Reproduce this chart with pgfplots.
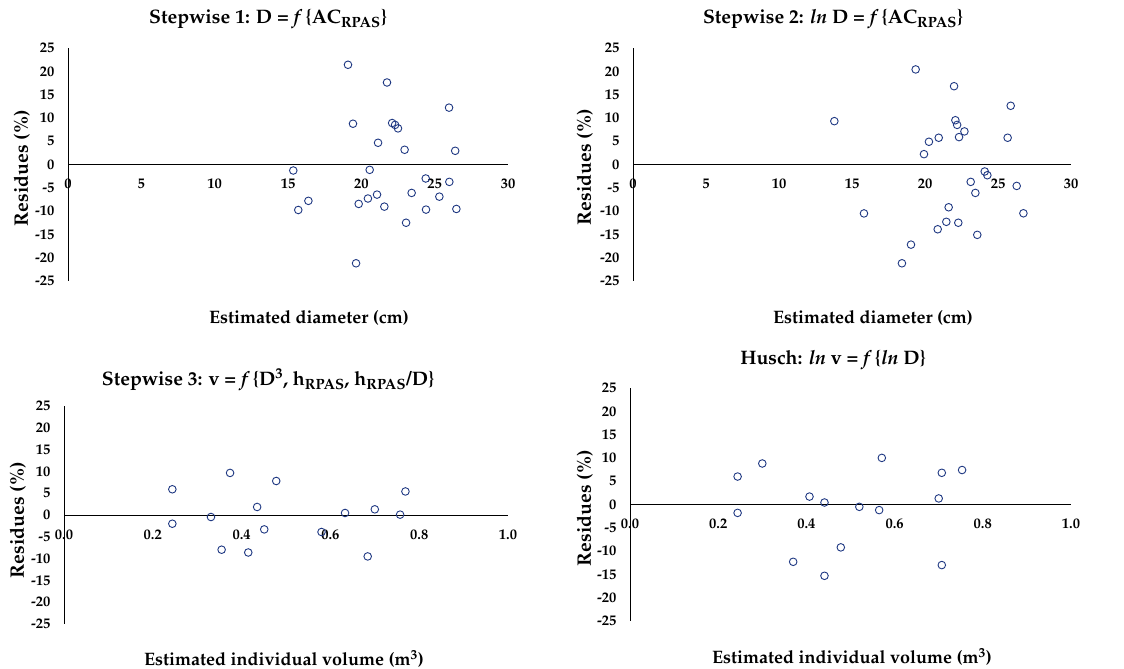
\documentclass[border=0pt]{standalone}
\usepackage[T1]{fontenc}
\usepackage{mathpazo}
\usepackage{pgfplots}
\pgfplotsset{compat=1.18}

\definecolor{mk}{RGB}{31,56,130}

\newcommand\tk[1]{\textbf{\fontsize{14.5}{14.5}\selectfont #1}}

\pgfplotsset{
  resid/.style={
    scale only axis,
    anchor=south west,
    axis x line=middle,
    axis y line=left,
    axis line style={-, black, line width=0.8pt},
    ymin=-25, ymax=25,
    ytick={-25,-20,...,25},
    yticklabel={\tk{\pgfmathprintnumber[assume math mode=true]{\tick}}},
    major tick length=0pt,
    hide obscured x ticks=false,
    hide obscured y ticks=false,
    clip=false,
    yticklabel style={xshift=-10pt},
    xticklabel style={yshift=-11pt},
  },
  dxt/.style={xmin=0, xmax=30, xtick={0,5,...,30},
    xticklabel={\tk{\pgfmathprintnumber[assume math mode=true]{\tick}}}},
  vxt/.style={xmin=0, xmax=1, xtick={0,0.2,0.4,0.6,0.8,1},
    xticklabel={\tk{\pgfmathprintnumber[assume math mode=true,fixed,fixed zerofill,precision=1]{\tick}}}},
  pts/.style={only marks, mark=o, mark size=3.8pt, mark options={draw=mk, line width=0.9pt}},
}

\begin{document}
\begin{tikzpicture}[x=1pt,y=1pt]
\useasboundingbox (0,0) rectangle (1124,669);

% ---- Stepwise 1
\begin{axis}[resid, dxt, at={(68pt,388pt)}, width=440pt, height=233pt]
\addplot[pts] coordinates {
(19.09,21.4) (21.75,17.6) (25.98,12.2) (19.43,8.75) (22.1,8.9) (22.3,8.5)
(22.5,7.75) (21.14,4.66) (22.95,3.16) (26.4,2.94) (15.36,-1.29) (20.57,-1.15)
(24.39,-3.0) (26.0,-3.73) (23.43,-6.1) (21.07,-6.46) (20.45,-7.3) (25.32,-6.9)
(16.39,-7.8) (19.82,-8.46) (21.57,-9.04) (15.7,-9.76) (24.41,-9.68) (26.48,-9.54)
(23.05,-12.5) (19.64,-21.2)};
\end{axis}

% ---- Stepwise 2
\begin{axis}[resid, dxt, at={(633pt,388pt)}, width=438pt, height=233pt]
\addplot[pts] coordinates {
(19.36,20.4) (21.99,16.8) (25.87,12.6) (13.79,9.3) (22.08,9.5) (22.2,8.5)
(22.7,7.1) (20.94,5.74) (22.33,5.88) (25.66,5.74) (20.27,4.88) (19.93,2.22)
(24.09,-1.5) (24.27,-2.3) (23.13,-3.73) (23.45,-6.1) (26.28,-4.6) (21.62,-9.18)
(15.82,-10.5) (26.74,-10.47) (21.46,-12.3) (22.28,-12.5) (20.87,-13.9)
(23.58,-15.1) (19.04,-17.2) (18.42,-21.2)};
\end{axis}

% ---- Stepwise 3
\begin{axis}[resid, vxt, at={(64pt,45pt)}, width=444pt, height=218pt]
\addplot[pts] coordinates {
(0.244,5.9) (0.244,-2.0) (0.331,-0.46) (0.374,9.65) (0.355,-7.96) (0.415,-8.6)
(0.435,1.84) (0.451,-3.3) (0.478,7.8) (0.580,-3.9) (0.633,0.46) (0.700,1.3)
(0.684,-9.5) (0.757,0.08) (0.769,5.4)};
\end{axis}

% ---- Husch
\begin{axis}[resid, vxt, at={(630pt,48pt)}, width=441pt, height=233pt]
\addplot[pts] coordinates {
(0.244,6.0) (0.244,-1.8) (0.300,8.8) (0.407,1.7) (0.441,0.43) (0.370,-12.3)
(0.441,-15.3) (0.478,-9.2) (0.520,-0.5) (0.565,-1.2) (0.571,10.0) (0.700,1.3)
(0.707,6.8) (0.753,7.4) (0.707,-13.0)};
\end{axis}

% titles
\tikzset{ttl/.style={font=\bfseries\fontsize{19.5}{19.5}\selectfont, inner sep=0pt},
         lbl/.style={font=\bfseries\fontsize{18}{18}\selectfont, inner sep=0pt},
         ylb/.style={font=\bfseries\fontsize{19.5}{19.5}\selectfont, inner sep=0pt, rotate=90}}
\node[ttl] at (268,650) {Stepwise 1: D = \textit{f}\,\{AC\textsubscript{RPAS}\}};
\node[ttl] at (833,650) {Stepwise 2: \textit{ln} D = \textit{f}\,\{AC\textsubscript{RPAS}\}};
\node[ttl] at (268,289) {Stepwise 3: v = \textit{f}\,\{D\textsuperscript{3}, h\textsubscript{RPAS}, h\textsubscript{RPAS}/D\}};
\node[ttl] at (833,309) {Husch: \textit{ln} v = \textit{f}\,\{\textit{ln} D\}};

% axis labels
\node[lbl] at (309,351) {Estimated diameter (cm)};
\node[lbl] at (873,351) {Estimated diameter (cm)};
\node[lbl] at (284,10) {Estimated individual volume (m\textsuperscript{3})};
\node[lbl] at (852,12) {Estimated individual volume (m\textsuperscript{3})};
\node[ylb] at (22,501) {Residues (\%)};
\node[ylb] at (585,502) {Residues (\%)};
\node[ylb] at (18,149) {Residues (\%)};
\node[ylb] at (585,161) {Residues (\%)};
\end{tikzpicture}
\end{document}
